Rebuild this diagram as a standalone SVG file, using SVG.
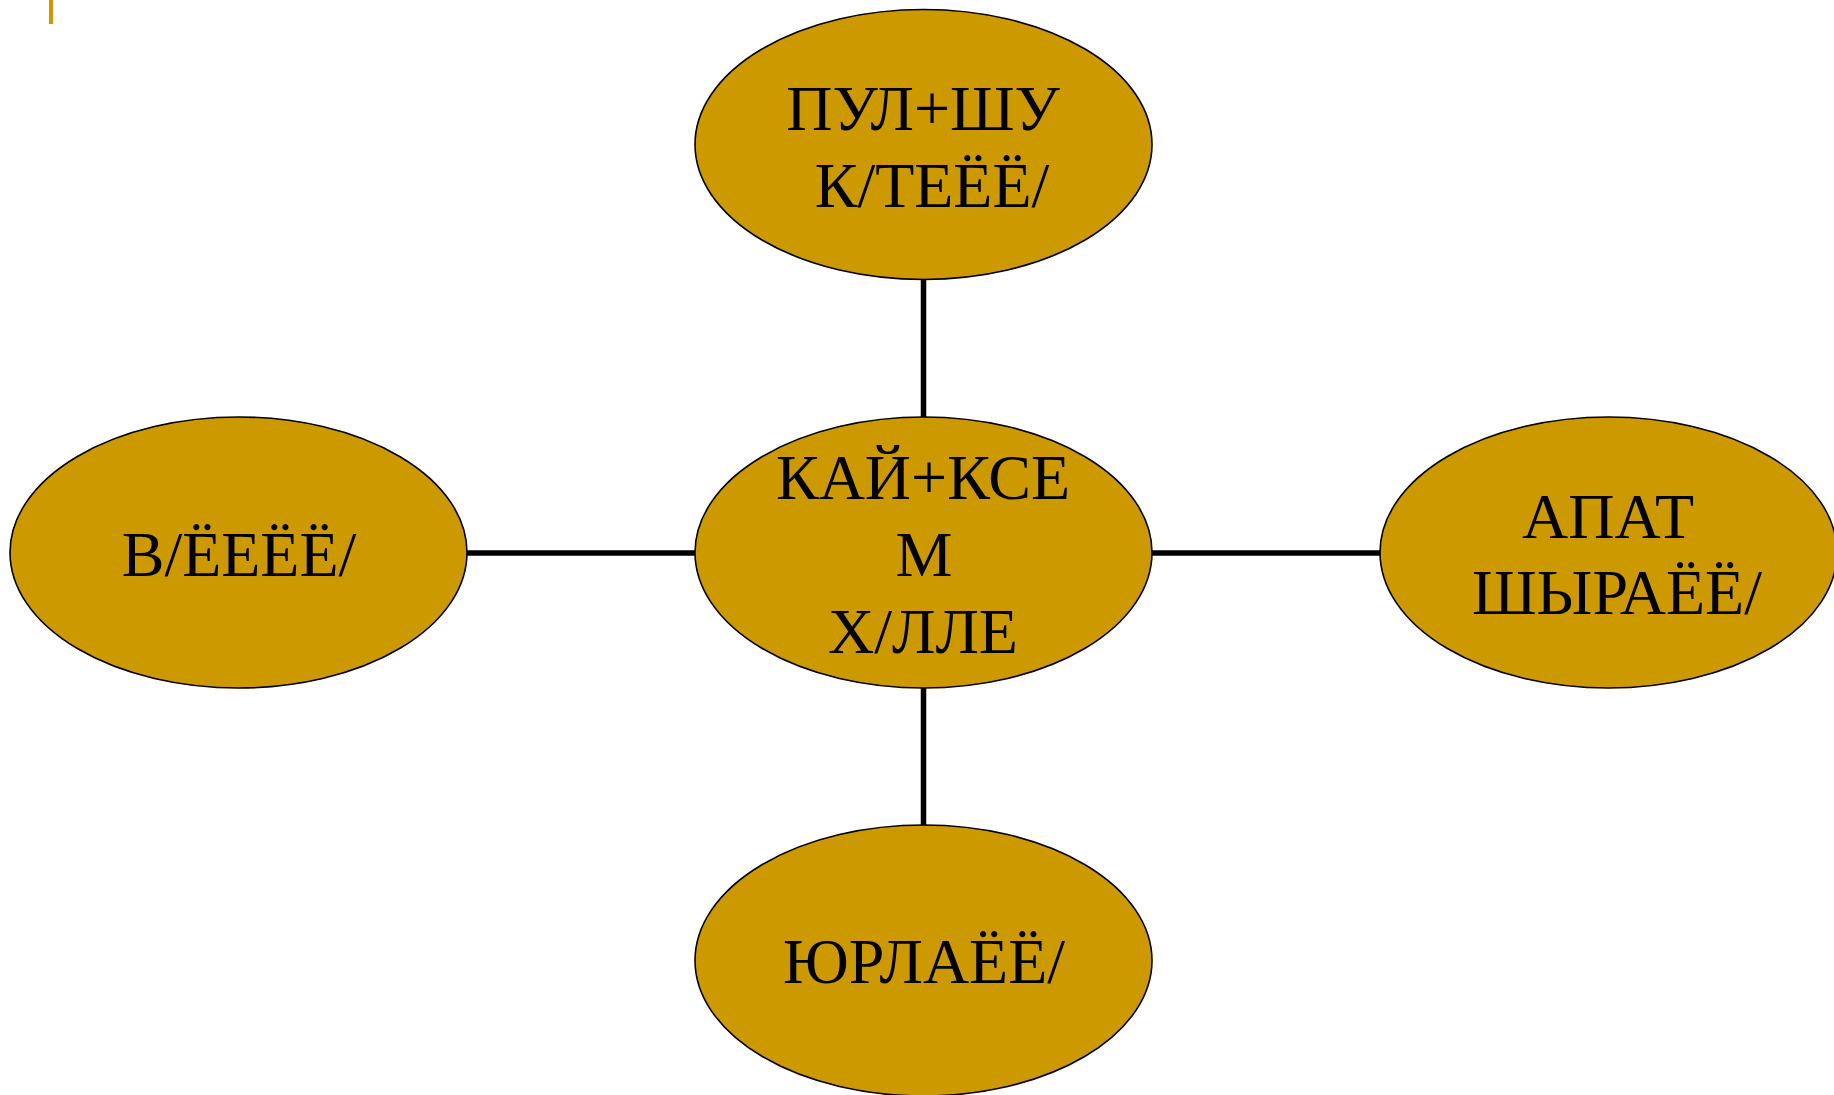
<svg xmlns="http://www.w3.org/2000/svg" width="1834" height="1095" viewBox="0 0 1834 1095">
<style>
.node ellipse{fill:#CC9900;stroke:#000;stroke-width:1.6}
.node text{font-family:"Liberation Serif","Times New Roman",serif;font-size:64px;fill:#000;text-anchor:middle}
.conn line{stroke:#000;stroke-width:5.5}
</style>
<rect width="1834" height="1095" fill="#fff"/>
<rect x="49" y="0" width="4" height="24" fill="#CC9900"/>
<g class="conn" id="connectors">
<line x1="923.5" y1="279" x2="923.5" y2="417"/>
<line x1="923.5" y1="688" x2="923.5" y2="825"/>
<line x1="467" y1="553" x2="695" y2="553"/>
<line x1="1152" y1="553" x2="1380" y2="553"/>
</g>
<g class="node" id="top">
<ellipse cx="923.5" cy="144.5" rx="228.5" ry="135"/>
<text x="923" y="130">ПУЛ+ШУ</text>
<text x="932" y="207">К/ТЕЁЁ/</text>
</g>
<g class="node" id="center">
<ellipse cx="923.5" cy="552.5" rx="228.5" ry="135.5"/>
<text x="923" y="499">КАЙ+КСЕ</text>
<text x="924" y="576">М</text>
<text x="923" y="653">Х/ЛЛЕ</text>
</g>
<g class="node" id="left">
<ellipse cx="238.5" cy="552.5" rx="228.5" ry="135.5"/>
<text x="239" y="576">В/ЁЕЁЁ/</text>
</g>
<g class="node" id="right">
<ellipse cx="1608.5" cy="552.5" rx="228.5" ry="135.5"/>
<text x="1608" y="538">АПАТ</text>
<text x="1617" y="614">ШЫРАЁЁ/</text>
</g>
<g class="node" id="bottom">
<ellipse cx="923.5" cy="960.5" rx="228.5" ry="135.5"/>
<text x="924" y="983">ЮРЛАЁЁ/</text>
</g>
</svg>
